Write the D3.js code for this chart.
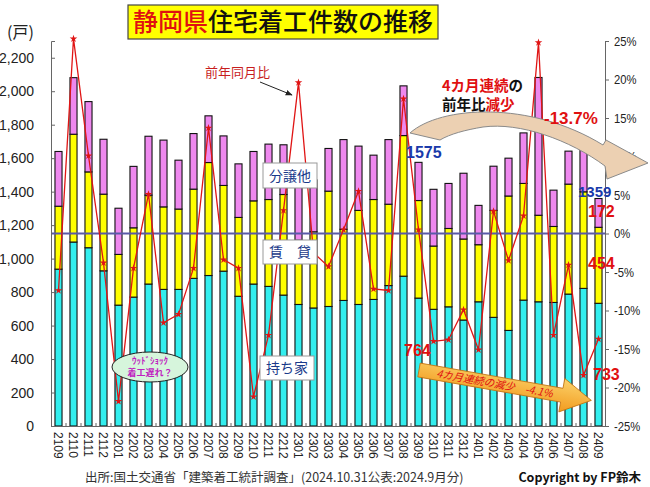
<!DOCTYPE html>
<html><head><meta charset="utf-8">
<script src="https://cdn.jsdelivr.net/npm/d3@7"></script>
<style>
html,body{margin:0;padding:0;background:#fff;}
svg{display:block;}
</style></head>
<body>
<svg id="chart" width="650" height="487"></svg>
<script>
// ---- data ----
const months = ["2109","2110","2111","2112","2201","2202","2203","2204","2205","2206","2207","2208","2209","2210","2211","2212","2301","2302","2303","2304","2305","2306","2307","2308","2309","2310","2311","2312","2401","2402","2403","2404","2405","2406","2407","2408","2409"];
const mochiie = [937,1099,1065,927,722,770,848,816,816,882,899,925,775,848,834,782,726,705,714,750,726,756,839,895,764,697,712,633,742,649,571,752,742,738,788,822,733];
const chintai = [376,644,453,458,303,414,531,493,480,533,675,512,471,497,519,601,384,455,689,425,562,597,486,840,583,378,468,484,341,639,803,697,517,454,657,577,454];
const bunjo   = [327,338,420,328,276,367,352,399,292,332,279,296,320,295,331,297,420,310,255,536,384,265,386,297,228,339,269,393,235,264,226,302,823,217,197,259,172];
const yoy     = [-7.4,25.3,10.1,-3.8,-21.8,-4.5,5.1,-11.6,-10.5,-4.5,13.7,-3.4,-4.5,-21.2,-13.2,3.0,19.6,-2.5,-4.3,0.5,5.5,-7.2,-7.4,17.5,0.5,-14.0,-13.8,-9.9,-15.1,2.9,-3.5,2.3,24.8,-13.2,-4.1,-18.4,-13.7];
const leftTicks = [0,200,400,600,800,1000,1200,1400,1600,1800,2000,2200];
const rightTicks = [-25,-20,-15,-10,-5,0,5,10,15,20,25];
const seriesKeys = ["持ち家","賃貸","分譲他"];
const seriesColors = ["#33EEEE","#FFFF00","#EE88EE"];

const rows = months.map((m,i)=>({month:m,"持ち家":mochiie[i],"賃貸":chintai[i],"分譲他":bunjo[i]}));

const svg = d3.select("#chart");
const L = 51, R = 605, T = 41, B = 426;
const JP = "'Noto Sans CJK JP', sans-serif";
const AR = "'Liberation Sans', Arial, sans-serif";

const x = d3.scaleBand().domain(months).range([L, R+1]).paddingInner(0.53).paddingOuter(0.265);
const y = d3.scaleLinear().domain([0,2300]).range([B,T]);
const y2 = d3.scaleLinear().domain([-25,25]).range([B,T]);

// bars
const stack = d3.stack().keys(seriesKeys)(rows);
svg.append("g").selectAll("g").data(stack).join("g")
  .attr("fill",(d,i)=>seriesColors[i])
  .selectAll("rect").data(d=>d).join("rect")
  .attr("x",d=>x(d.data.month))
  .attr("width",x.bandwidth())
  .attr("y",d=>y(d[1]))
  .attr("height",d=>y(d[0])-y(d[1]))
  .attr("stroke","#111").attr("stroke-width",1.1);

// zero % line
svg.append("line").attr("x1",L).attr("x2",R).attr("y1",y2(0)).attr("y2",y2(0))
  .attr("stroke","#5a5aa8").attr("stroke-width",2);

// left axis
const gl = svg.append("g").attr("transform",`translate(${L},0)`)
  .call(d3.axisLeft(y).tickValues(leftTicks).tickSize(-4).tickPadding(17).tickFormat(d3.format(",")));
gl.select(".domain").attr("stroke","#666");
gl.selectAll(".tick line").attr("stroke","#666");
gl.selectAll("text").attr("font-family",AR).attr("font-size",14).attr("fill","#222");

// right axis
const gr = svg.append("g").attr("transform",`translate(${R},0)`)
  .call(d3.axisRight(y2).tickValues(rightTicks).tickSize(4).tickPadding(5).tickFormat(d=>d+"%"));
gr.select(".domain").attr("stroke","#666");
gr.selectAll(".tick line").attr("stroke","#666");
gr.selectAll("text").attr("font-family",AR).attr("font-size",12.5).attr("fill","#222")
  .attr("transform","scale(0.9,1)").attr("x",function(){return 9/0.9;});

// bottom axis
const gb = svg.append("g").attr("transform",`translate(0,${B})`)
  .call(d3.axisBottom(x).tickSize(0).tickPadding(0));
gb.select(".domain").attr("stroke","#666");
gb.selectAll("text").attr("font-family",AR).attr("font-size",12).attr("fill","#222")
  .attr("transform","rotate(90)").attr("text-anchor","start").attr("dy","0.35em").attr("x",6).attr("y",0);
// small inner ticks between bars
svg.append("g").selectAll("line").data(months.slice(1)).join("line")
  .attr("x1",d=>x(d)-x.step()*0.265).attr("x2",d=>x(d)-x.step()*0.265)
  .attr("y1",B).attr("y2",B-3).attr("stroke","#666");

// YoY line
const line = d3.line().x((d,i)=>x(months[i])+x.bandwidth()/2).y(d=>y2(d));
svg.append("path").datum(yoy).attr("d",line).attr("fill","none").attr("stroke","#e01515").attr("stroke-width",1.3);
svg.append("g").selectAll("path").data(yoy).join("path")
  .attr("d",d3.symbol().type(d3.symbolStar).size(18))
  .attr("transform",(d,i)=>`translate(${x(months[i])+x.bandwidth()/2},${y2(d)})`)
  .attr("fill","#e01515");

// (戸)
svg.append("text").attr("x",7).attr("y",38).text("(戸)").attr("font-family",JP).attr("font-size",16).attr("fill","#222");

// title
svg.append("rect").attr("x",128).attr("y",5).attr("width",310).attr("height",34).attr("fill","#FFFF00").attr("stroke","#444").attr("stroke-width",1.2);
const tt = svg.append("text").attr("x",283).attr("y",31).attr("text-anchor","middle").attr("font-family",JP).attr("font-size",25).attr("font-weight",500);
tt.append("tspan").attr("fill","#e01010").text("静岡県");
tt.append("tspan").attr("fill","#111").text("住宅着工件数の推移");

// 前年同月比 label + arrow
svg.append("defs").append("marker").attr("id","ah").attr("viewBox","0 0 10 10").attr("refX",9).attr("refY",5)
  .attr("markerWidth",7).attr("markerHeight",7).attr("orient","auto")
  .append("path").attr("d","M0,1 L10,5 L0,9 Z").attr("fill","#222");
svg.append("text").attr("x",205).attr("y",77).text("前年同月比").attr("font-family",JP).attr("font-size",13).attr("fill","#c81e1e");
svg.append("line").attr("x1",260).attr("y1",82).attr("x2",292).attr("y2",95).attr("stroke","#222").attr("stroke-width",1).attr("marker-end","url(#ah)");

// series boxes
function box(x0,y0,w,h,label){
  svg.append("rect").attr("x",x0).attr("y",y0).attr("width",w).attr("height",h).attr("fill","#fff").attr("stroke","#999").attr("stroke-width",1);
  svg.append("text").attr("x",x0+w/2).attr("y",y0+h/2+5).attr("text-anchor","middle").text(label)
    .attr("font-family",JP).attr("font-size",14).attr("fill","#1a3a8a");
}
box(263,163,54,25,"分譲他");
box(263,240,54,24,"賃　貸");
box(260,356,54,24,"持ち家");

// wood shock ellipse
svg.append("ellipse").attr("cx",150).attr("cy",367).attr("rx",38).attr("ry",15).attr("fill","#d6f5dc").attr("stroke","#222").attr("stroke-width",1);
svg.append("text").attr("x",150).attr("y",364).attr("text-anchor","middle").text("ｳｯﾄﾞｼｮｯｸ").attr("font-family",JP).attr("font-size",9).attr("font-weight",700).attr("fill","#c020c0");
svg.append("text").attr("x",150).attr("y",376).attr("text-anchor","middle").text("着工遅れ？").attr("font-family",JP).attr("font-size",9).attr("font-weight",700).attr("fill","#c020c0");

// curved tan arrow
svg.append("path")
  .attr("d","M410,133 C440,106 530,100 603,145 L606,140 L648,163 L607,179 L605,166 C570,140 520,122 483,127 C465,130 450,134 440,140 Z")
  .attr("fill","#ecd0b2").attr("stroke","#8a8a8a").attr("stroke-width",1);

// 4カ月連続の前年比減少
const t1 = svg.append("text").attr("x",442).attr("y",91).attr("font-family",JP).attr("font-size",14.5).attr("font-weight",700);
t1.append("tspan").attr("fill","#e01010").text("4カ月連続");
t1.append("tspan").attr("fill","#111").text("の");
const t2 = svg.append("text").attr("x",442).attr("y",110).attr("font-family",JP).attr("font-size",14.5).attr("font-weight",700);
t2.append("tspan").attr("fill","#111").text("前年比");
t2.append("tspan").attr("fill","#e01010").text("減少");

svg.append("text").attr("x",544).attr("y",124).text("-13.7%").attr("font-family",AR).attr("font-size",17).attr("font-weight",700).attr("fill","#e01010");

// value labels
function val(xp,yp,t,c,fs){svg.append("text").attr("x",xp).attr("y",yp).text(t).attr("font-family",AR).attr("font-size",fs||16).attr("font-weight",700).attr("fill",c);}
val(406,158,"1575","#1a3aaa");
val(578,197,"1359","#1a3aaa",15);
val(588,217,"172","#e01010");
val(588,269,"454","#e01010");
val(593,380,"733","#e01010");
val(404,356,"764","#e01010");

// orange block arrow
const grad = svg.select("defs").append("linearGradient").attr("id","og").attr("x1",0).attr("y1",0).attr("x2",0).attr("y2",1);
grad.append("stop").attr("offset",0).attr("stop-color","#fbd26a");
grad.append("stop").attr("offset",1).attr("stop-color","#f29a1e");
const oa = svg.append("g").attr("transform","translate(419,370) rotate(10)");
oa.append("path").attr("d","M0,-7 L145,-7 L145,-17 L175,0 L145,17 L145,7 L0,7 Z").attr("fill","url(#og)").attr("stroke","#c07010").attr("stroke-width",0.8);
oa.append("text").attr("x",18).attr("y",4).text("4カ月連続の減少　-4.1%").attr("font-family",JP).attr("font-size",10.5).attr("font-style","italic").attr("fill","#e01010");

// source / copyright
svg.append("text").attr("x",85).attr("y",482).text("出所:国土交通省「建築着工統計調査」(2024.10.31公表:2024.9月分)")
  .attr("font-family",JP).attr("font-size",12.5).attr("fill","#333");
svg.append("text").attr("x",641).attr("y",482).attr("text-anchor","end").text("Copyright by FP鈴木")
  .attr("font-family",JP).attr("font-size",12.5).attr("font-weight",700).attr("fill","#111");
</script>
</body></html>
